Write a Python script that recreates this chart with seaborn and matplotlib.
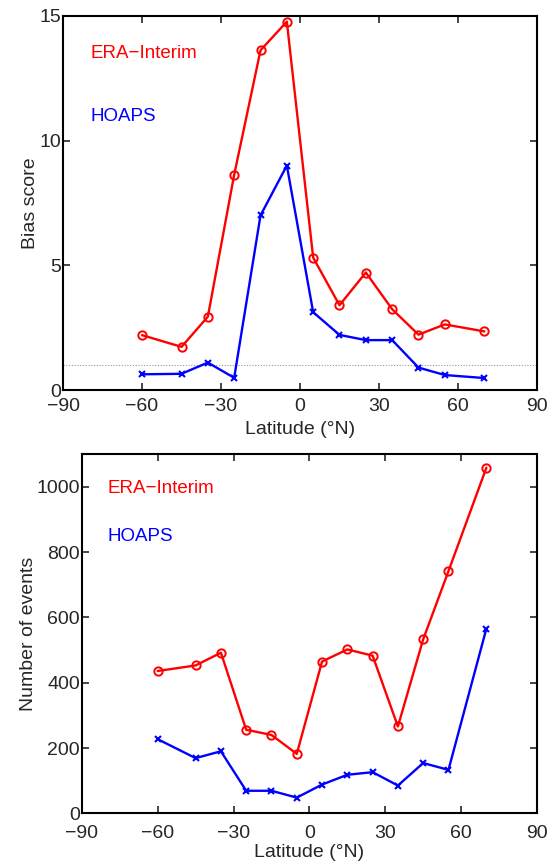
import numpy as np
import pandas as pd
import matplotlib
matplotlib.use("Agg")
import matplotlib.pyplot as plt
import seaborn as sns

lat = [-60, -45, -35, -25, -15, -5, 5, 15, 25, 35, 45, 55, 70]
bias_era = [2.2, 1.73, 2.94, 8.63, 13.62, 14.77, 5.31, 3.40, 4.71, 3.24, 2.22, 2.63, 2.35]
bias_hoaps = [0.63, 0.65, 1.1, 0.49, 7.0, 9.0, 3.12, 2.21, 2.0, 2.0, 0.9, 0.6, 0.48]
n_era = [436, 453, 492, 256, 240, 182, 465, 502, 483, 266, 533, 742, 1059]
n_hoaps = [227, 169, 190, 69, 69, 48, 88, 118, 126, 85, 154, 133, 566]
xticks = [-90, -60, -30, 0, 30, 60, 90]

sns.set_style("ticks")
plt.rcParams['font.family'] = ['Liberation Sans', 'DejaVu Sans']
plt.rcParams['axes.unicode_minus'] = True

red = '#ff0000'
blue = '#0000ff'
fs = 14
fs_txt = 13.5

fig = plt.figure(figsize=(5.53, 8.64), dpi=100)
ax1 = fig.add_axes([0.114, 0.5486, 0.857, 0.433])
ax2 = fig.add_axes([0.148, 0.0587, 0.823, 0.4155])

df1 = pd.DataFrame({'lat': lat, 'era': bias_era, 'hoaps': bias_hoaps})
df2 = pd.DataFrame({'lat': lat, 'era': n_era, 'hoaps': n_hoaps})

for ax, df, ylim, yticks, ylabel, ty, xpad, xlpad, ylpad in [
    (ax1, df1, (0, 15), [0, 5, 10, 15], 'Bias score', (0.90, 0.73), 6.0, 4.0, 0.5),
    (ax2, df2, (0, 1100), [0, 200, 400, 600, 800, 1000], 'Number of events', (0.906, 0.77), 8.5, 1.5, -0.5),
]:
    sns.lineplot(data=df, x='lat', y='era', ax=ax, color=red, lw=1.7,
                 marker='o', markersize=6, markerfacecolor='none',
                 markeredgecolor=red, markeredgewidth=1.4)
    sns.lineplot(data=df, x='lat', y='hoaps', ax=ax, color=blue, lw=1.7,
                 marker='x', markersize=4, markeredgecolor=blue, markeredgewidth=1.5)
    ax.set_xlim(-90, 90)
    ax.set_ylim(*ylim)
    ax.set_xticks(xticks)
    ax.set_yticks(yticks)
    ax.set_xlabel('Latitude (\u00b0N)', fontsize=fs, labelpad=xlpad)
    ax.set_ylabel(ylabel, fontsize=fs, labelpad=ylpad)
    ax.tick_params(direction='in', top=True, right=True, length=5, width=1.2,
                   labelsize=fs)
    ax.tick_params(axis='x', pad=xpad)
    ax.tick_params(axis='y', pad=1.5)
    for s in ax.spines.values():
        s.set_visible(True)
        s.set_linewidth(1.5)
        s.set_color('black')
    ax.text(0.057, ty[0], 'ERA\u2212Interim', color=red, fontsize=fs_txt,
            transform=ax.transAxes, va='center', ha='left')
    ax.text(0.057, ty[1], 'HOAPS', color=blue, fontsize=fs_txt,
            transform=ax.transAxes, va='center', ha='left')

ax1.axhline(1, color='#999999', lw=0.8, ls=(0, (1, 1.5)), zorder=0)

fig.savefig('out.png', dpi=100)
